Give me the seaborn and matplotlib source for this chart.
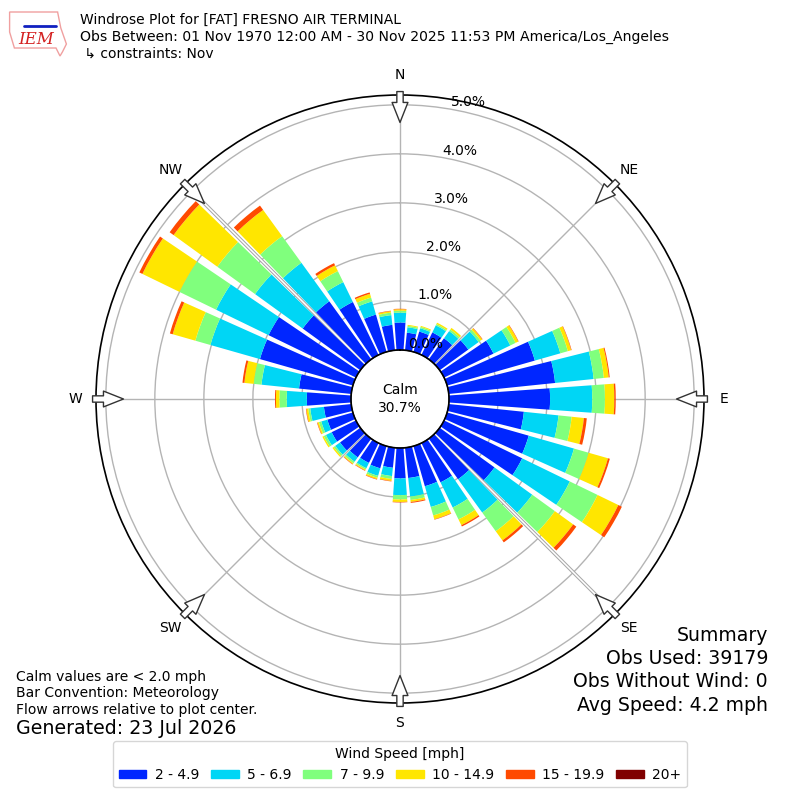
import numpy as np
import pandas as pd
import seaborn as sns
import matplotlib
matplotlib.use("Agg")
import matplotlib.pyplot as plt
from matplotlib.patches import Patch, Polygon

# ---- data: frequency (%) per 10 degree sector and speed bin ----
directions = list(range(0, 360, 10))

spd_2_5 = [0.56, 0.36, 0.43, 0.51, 0.53, 0.72, 1.12, 1.86, 2.18, 2.06, 1.54, 1.73,
           1.77, 1.38, 1.02, 0.89, 0.85, 0.62, 0.62, 0.41, 0.47, 0.45, 0.47, 0.51,
           0.55, 0.54, 0.56, 0.90, 1.07, 1.97, 1.98, 1.45, 1.46, 1.20, 0.79, 0.52]
spd_5_7 = [0.20, 0.11, 0.07, 0.16, 0.18, 0.26, 0.38, 0.54, 0.79, 0.86, 0.71, 0.96,
           1.08, 0.95, 0.84, 0.57, 0.44, 0.38, 0.34, 0.17, 0.16, 0.12, 0.11, 0.12,
           0.13, 0.13, 0.28, 0.41, 0.77, 1.05, 1.19, 1.20, 0.97, 0.45, 0.28, 0.20]
spd_7_10 = [0.04, 0.03, 0.03, 0.03, 0.04, 0.05, 0.12, 0.16, 0.21, 0.26, 0.27, 0.31,
            0.63, 0.57, 0.47, 0.27, 0.18, 0.07, 0.09, 0.06, 0.04, 0.03, 0.04, 0.04,
            0.05, 0.05, 0.04, 0.15, 0.16, 0.32, 0.83, 0.95, 0.67, 0.25, 0.08, 0.05]
spd_10_15 = [0.03, 0.02, 0.02, 0.03, 0.04, 0.04, 0.06, 0.07, 0.10, 0.19, 0.25, 0.41,
             0.47, 0.46, 0.23, 0.13, 0.08, 0.04, 0.05, 0.04, 0.03, 0.02, 0.02, 0.03,
             0.03, 0.03, 0.04, 0.07, 0.19, 0.48, 0.84, 1.10, 0.66, 0.13, 0.08, 0.03]
spd_15_20 = [0.01, 0.00, 0.00, 0.00, 0.00, 0.01, 0.01, 0.01, 0.02, 0.03, 0.06, 0.04,
             0.08, 0.08, 0.05, 0.03, 0.01, 0.02, 0.01, 0.01, 0.01, 0.01, 0.01, 0.00,
             0.00, 0.01, 0.01, 0.02, 0.04, 0.06, 0.07, 0.10, 0.11, 0.05, 0.03, 0.01]
spd_20_up = [0.0] * 36

bin_labels = ["2 - 4.9", "5 - 6.9", "7 - 9.9", "10 - 14.9", "15 - 19.9", "20+"]
bin_colors = ["#0026ff", "#00d6f5", "#80ff7d", "#ffe600", "#ff4a00", "#800000"]
ring_ticks = [0, 1, 2, 3, 4, 5]
compass_names = ["N", "NE", "E", "SE", "S", "SW", "W", "NW"]
compass_angles = [0, 45, 90, 135, 180, 225, 270, 315]
calm_pct = 30.7

df = pd.DataFrame({"dir": directions})
for lab, vals in zip(bin_labels, [spd_2_5, spd_5_7, spd_7_10, spd_10_15, spd_15_20, spd_20_up]):
    df[lab] = vals
tops = df[bin_labels].cumsum(axis=1)
bottoms = tops - df[bin_labels]

sns.set_style("white")
plt.rcParams["font.family"] = ["DejaVu Sans"]
plt.rcParams["text.color"] = "black"

fig = plt.figure(figsize=(8, 8), dpi=100)
ax = fig.add_axes([0.12, 0.12125, 0.76, 0.76], projection="polar")
ax.set_theta_zero_location("N")
ax.set_theta_direction(-1)
ax.set_rorigin(-1)
ax.set_ylim(0, 5.2)

theta = np.radians(df["dir"].to_numpy())
for lab, col in zip(bin_labels, bin_colors):
    ax.bar(theta, df[lab], bottom=bottoms[lab], width=np.radians(8.2),
           color=col, linewidth=0, zorder=3)

# ---- grid ----
ax.set_xticks(np.radians(compass_angles))
ax.set_xticklabels([])
ax.set_yticks(ring_ticks[1:])
ax.set_yticklabels([])
ax.grid(color="#b4b4b4", linewidth=1)
ax.spines["polar"].set_color("black")
ax.spines["polar"].set_linewidth(1.2)

for a in [135, 315]:
    ax.plot([np.radians(a)] * 2, [0, 5.2], color="#a8a8a8", lw=2.6, zorder=2,
            solid_capstyle="butt")
    ax.plot([np.radians(a)] * 2, [0, 5.2], color="white", lw=1.1, zorder=2.1,
            solid_capstyle="butt")

for t in ring_ticks:
    ax.text(np.radians(10), t, f"{t:.1f}%", ha="left", va="bottom", fontsize=10,
            zorder=5)

# calm circle
circ = np.linspace(0, 2 * np.pi, 361)
ax.plot(circ, np.zeros_like(circ), color="black", lw=1.2, zorder=4, clip_on=False)
ax.text(0, -1, f"Calm\n{calm_pct:.1f}%", ha="center", va="center", fontsize=10,
        zorder=5, linespacing=1.3)

# compass labels and inward arrows
for name, a in zip(compass_names, compass_angles):
    ax.text(np.radians(a), 5.61, name, ha="center", va="center", fontsize=10,
            clip_on=False)
    ax.annotate("", xy=(np.radians(a), 4.64), xytext=(np.radians(a), 5.27),
                arrowprops=dict(arrowstyle="simple,head_length=1.2,head_width=0.95,tail_width=0.38",
                                fc="white", ec="#333333", lw=1.0,
                                shrinkA=0, shrinkB=0, mutation_scale=12),
                annotation_clip=False, zorder=6)

# ---- header ----
fig.text(0.1, 0.975, "Windrose Plot for [FAT] FRESNO AIR TERMINAL", va="center", fontsize=10)
fig.text(0.1, 0.954, "Obs Between: 01 Nov 1970 12:00 AM - 30 Nov 2025 11:53 PM America/Los_Angeles",
         va="center", fontsize=10.1)
fig.text(0.1, 0.9325, " \u21b3 constraints: Nov", va="center", fontsize=10)

# IEM logo
logo = Polygon([[0.012, 0.985], [0.072, 0.985], [0.076, 0.965], [0.083, 0.945],
                [0.078, 0.935], [0.075, 0.93], [0.07, 0.94], [0.018, 0.94], [0.012, 0.96]],
               closed=True, transform=fig.transFigure, fc="none", ec="#f0a0a0", lw=1)
fig.patches.append(logo)
fig.text(0.045, 0.951, "IEM", ha="center", va="center", fontsize=12, color="#d42020",
         style="italic", family=["DejaVu Serif"])
fig.lines.append(plt.Line2D([0.03, 0.07], [0.968, 0.968], transform=fig.transFigure,
                            color="#1020c0", lw=2))

# ---- footer notes ----
fig.text(0.02, 0.154, "Calm values are < 2.0 mph", va="center", fontsize=10)
fig.text(0.02, 0.134, "Bar Convention: Meteorology", va="center", fontsize=10)
fig.text(0.02, 0.1125, "Flow arrows relative to plot center.", va="center", fontsize=10)
fig.text(0.02, 0.089, "Generated: 23 Jul 2026", va="center", fontsize=13.7)

summary = ["Summary", "Obs Used: 39179", "Obs Without Wind: 0", "Avg Speed: 4.2 mph"]
for i, line in enumerate(summary):
    fig.text(0.96, 0.206 - i * 0.0292, line, ha="right", va="center", fontsize=13.6)

handles = [Patch(color=c) for c in bin_colors]
leg = fig.legend(handles, bin_labels, loc="lower center", bbox_to_anchor=(0.5, 0.007),
                 ncol=6, title="Wind Speed [mph]", fontsize=10, title_fontsize=10,
                 handlelength=2.0, handleheight=0.6, handletextpad=0.6,
                 columnspacing=0.85, frameon=True)
leg.get_frame().set_edgecolor("#cccccc")

fig.savefig("out.png", dpi=100)
